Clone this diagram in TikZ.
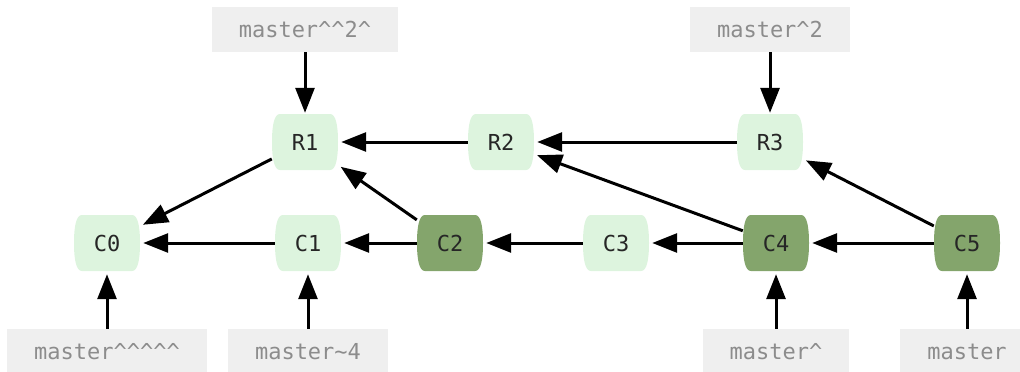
\documentclass[tikz,border=0pt]{standalone}
\usepackage{fontspec}
\newfontfamily\gitfont{DejaVu Sans Mono}
\usepackage{tikz}
\usetikzlibrary{arrows.meta}

\definecolor{commitlight}{RGB}{221,244,222}
\definecolor{commitdark}{RGB}{132,165,108}
\definecolor{refbox}{RGB}{239,239,239}
\definecolor{reftext}{RGB}{140,140,140}
\newcommand{\crt}{\textasciicircum}

\begin{document}
\begin{tikzpicture}[x=1pt,y=-1pt,
 commit/.style={rectangle, inner sep=0pt, minimum width=66pt, minimum height=56pt, text=black!85, font=\gitfont\fontsize{22}{26}\selectfont},
 commitshape/.style={insert path={(-25,-28) -- (25,-28) .. controls (30.5,-28) and (33,-18) .. (33,0) .. controls (33,18) and (30.5,28) .. (25,28) -- (-25,28) .. controls (-30.5,28) and (-33,18) .. (-33,0) .. controls (-33,-18) and (-30.5,-28) .. (-25,-28) -- cycle}},
 refname/.style={rectangle, fill=refbox, text=reftext, inner xsep=27pt, inner ysep=0pt, minimum height=45pt, font=\gitfont\fontsize{22}{26}\selectfont},
 arr/.style={line width=3pt, -{Triangle[length=25pt,width=19pt]}, shorten >=3pt}]

 \useasboundingbox (0,0) rectangle (1020,372);
 \clip (0,0) rectangle (1020,372);

 % commit shapes
 \fill[commitlight, shift={(107,243)}, commitshape];
 \fill[commitlight, shift={(308,243)}, commitshape];
 \fill[commitdark,  shift={(450,243)}, commitshape];
 \fill[commitlight, shift={(616,243)}, commitshape];
 \fill[commitdark,  shift={(776,243)}, commitshape];
 \fill[commitdark,  shift={(967,243)}, commitshape];
 \fill[commitlight, shift={(305,142)}, commitshape];
 \fill[commitlight, shift={(501,142)}, commitshape];
 \fill[commitlight, shift={(770,142)}, commitshape];

 % commits
 \node[commit] (C0) at (107,243) {C0};
 \node[commit] (C1) at (308,243) {C1};
 \node[commit] (C2) at (450,243) {C2};
 \node[commit] (C3) at (616,243) {C3};
 \node[commit] (C4) at (776,243) {C4};
 \node[commit] (C5) at (967,243) {C5};
 \node[commit] (R1) at (305,142) {R1};
 \node[commit] (R2) at (501,142) {R2};
 \node[commit] (R3) at (770,142) {R3};

 % refs
 \node[refname] (refA) at (305,29.5)  {master\crt\crt2\crt};
 \node[refname] (refB) at (770,29.5)  {master\crt2};
 \node[refname] (refC) at (107,351.5) {master\crt\crt\crt\crt\crt};
 \node[refname] (refD) at (308,351.5) {master\textasciitilde4};
 \node[refname] (refE) at (776,351.5) {master\crt};
 \node[refname] (refF) at (967,351.5) {master};

 % parents
 \draw[arr] (C1) -- (C0);
 \draw[arr] (R1) -- (C0);
 \draw[arr] (C2) -- (C1);
 \draw[arr] (C2) -- (R1);
 \draw[arr] (C3) -- (C2);
 \draw[arr] (C4) -- (C3);
 \draw[arr] (C4) -- (R2);
 \draw[arr] (C5) -- (C4);
 \draw[arr] (C5) -- (R3);
 \draw[arr] (R2) -- (R1);
 \draw[arr] (R3) -- (R2);

 % ref arrows
 \draw[arr, shorten >=1pt] (refA) -- (R1);
 \draw[arr, shorten >=1pt] (refB) -- (R3);
 \draw[arr] (refC) -- (C0);
 \draw[arr] (refD) -- (C1);
 \draw[arr] (refE) -- (C4);
 \draw[arr] (refF) -- (C5);

\end{tikzpicture}
\end{document}
